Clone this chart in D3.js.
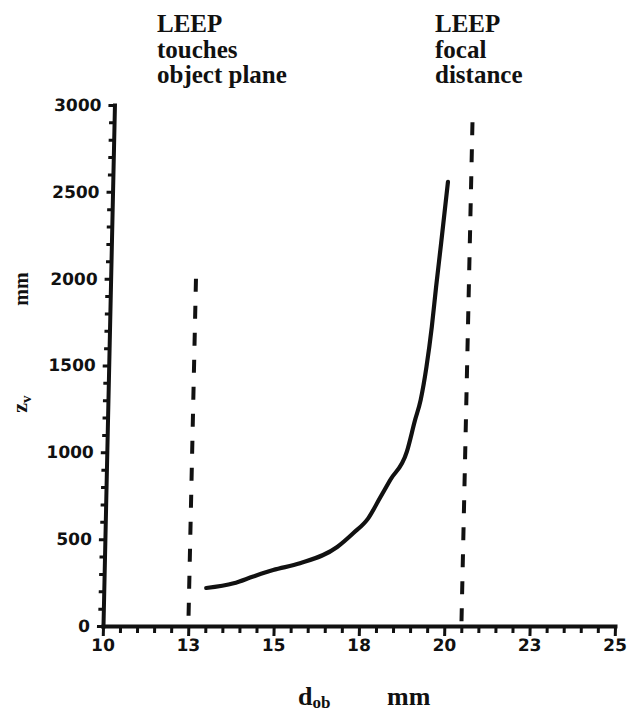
<!DOCTYPE html>
<html>
<head>
  <meta charset="utf-8">
  <title>LEEP virtual image distance</title>
  <style type="text/css">
    html, body { margin: 0; padding: 0; background: #fff; }
    svg { display: block; }
    .tick text { font-family: "DejaVu Sans", sans-serif; font-weight: bold; font-size: 17px; fill: #111; }
    .note, .title { font-family: "Liberation Serif", "Times New Roman", serif; font-weight: bold; fill: #111; }
  </style>
</head>
<body>

<div id="chart"></div>

<script src="https://d3js.org/d3.v7.min.js"></script>
<script type="text/javascript">
var width = 627;
var height = 713;

// axis ticks
var xTickValues = [10, 12.5, 15, 17.5, 20, 22.5, 25];
var xTickLabels = ["10", "13", "15", "18", "20", "23", "25"];
var yTickValues = [0, 500, 1000, 1500, 2000, 2500, 3000];
var yTickLabels = ["0", "500", "1000", "1500", "2000", "2500", "3000"];

// curve: d_ob (mm) vs z_v (mm)
var dob = [13.0, 13.8, 14.37, 14.95, 15.73, 16.81, 17.27, 17.70, 18.03, 18.32, 18.79, 19.01, 19.16, 19.31, 19.44, 19.54, 19.66, 19.82];
var zv  = [219, 246, 285, 322, 361, 455, 534, 620, 737, 841, 1004, 1186, 1301, 1493, 1722, 1952, 2205, 2557];

// dashed limits
var markerDob = [12.5, 20.5];
var markerTop = [2000, 2900];
var leftNote = ["LEEP", "touches", "object plane"];
var rightNote = ["LEEP", "focal", "distance"];

var x = d3.scaleLinear().domain([10, 25]).range([103, 615]);
var y = d3.scaleLinear().domain([0, 3000]).range([626, 105]);

var svg = d3.select("#chart")
  .append("svg")
  .attr("width", width)
  .attr("height", height);

svg.append("rect")
  .attr("width", width)
  .attr("height", height)
  .attr("fill", "#fff");

// the scanned figure leans slightly to the right
var plot = svg.append("g")
  .attr("transform", `translate(0,${y(0)}) skewX(-1.26) translate(0,${-y(0)})`);

// minor ticks first, majors on top
var xMinor = d3.range(10, 25.001, 0.5).filter(d => xTickValues.indexOf(d) < 0);
var yMinor = d3.range(0, 3000.1, 100).filter(d => yTickValues.indexOf(d) < 0);

plot.append("g")
  .attr("transform", `translate(0,${y(0)})`)
  .call(d3.axisBottom(x).tickValues(xMinor).tickSize(7).tickFormat(""))
  .call(g => g.select(".domain").remove());

plot.append("g")
  .attr("transform", `translate(${x(10)},0)`)
  .call(d3.axisLeft(y).tickValues(yMinor).tickSize(5).tickFormat(""))
  .call(g => g.select(".domain").remove());

plot.append("g")
  .attr("transform", `translate(0,${y(0)})`)
  .call(d3.axisBottom(x)
    .tickValues(xTickValues)
    .tickFormat((d, i) => xTickLabels[i])
    .tickSize(10)
    .tickSizeOuter(0)
    .tickPadding(3));

plot.append("g")
  .attr("transform", `translate(${x(10)},0)`)
  .call(d3.axisLeft(y)
    .tickValues(yTickValues)
    .tickFormat((d, i) => yTickLabels[i])
    .tickSize(6)
    .tickSizeOuter(0)
    .tickPadding(7));

plot.selectAll(".domain")
  .attr("stroke", "#111")
  .attr("stroke-width", 4)
  .attr("stroke-linecap", "square");
plot.selectAll(".tick line")
  .attr("stroke", "#111")
  .attr("stroke-width", 3);

// dashed vertical limits
plot.append("g")
  .selectAll("line")
  .data(markerDob)
  .join("line")
  .attr("x1", d => x(d))
  .attr("x2", d => x(d))
  .attr("y1", (d, i) => y(markerTop[i]))
  .attr("y2", y(0))
  .attr("stroke", "#111")
  .attr("stroke-width", 4)
  .attr("stroke-dasharray", "13,14");

// z_v curve
var line = d3.line()
  .x((d, i) => x(dob[i]))
  .y(d => y(d))
  .curve(d3.curveMonotoneX);

plot.append("path")
  .datum(zv)
  .attr("d", line)
  .attr("fill", "none")
  .attr("stroke", "#111")
  .attr("stroke-width", 4.2)
  .attr("stroke-linecap", "round")
  .attr("stroke-linejoin", "round");

// notes above the dashed lines
function note(lines, left) {
  svg.append("text")
    .attr("class", "note")
    .attr("font-size", 25)
    .selectAll("tspan")
    .data(lines)
    .join("tspan")
    .attr("x", left)
    .attr("y", (d, i) => 32 + i * 25.5)
    .text(d => d);
}
note(leftNote, 157);
note(rightNote, 435);

// x axis title
var xt = svg.append("text")
  .attr("class", "title")
  .attr("x", 298)
  .attr("y", 705)
  .attr("font-size", 26);
xt.append("tspan").text("d");
xt.append("tspan").attr("font-size", 17).attr("dy", 3).text("ob");

svg.append("text")
  .attr("class", "title")
  .attr("x", 387)
  .attr("y", 705)
  .attr("font-size", 26)
  .text("mm");

// y axis title, rotated
svg.append("text")
  .attr("class", "title")
  .attr("transform", "translate(28,289) rotate(-90)")
  .attr("text-anchor", "middle")
  .attr("font-size", 20)
  .text("mm");

var yt = svg.append("text")
  .attr("class", "title")
  .attr("transform", "translate(27,404) rotate(-90)")
  .attr("text-anchor", "middle")
  .attr("font-size", 22);
yt.append("tspan").text("z");
yt.append("tspan").attr("font-size", 15).attr("dy", 4).text("v");
</script>
</body>
</html>
